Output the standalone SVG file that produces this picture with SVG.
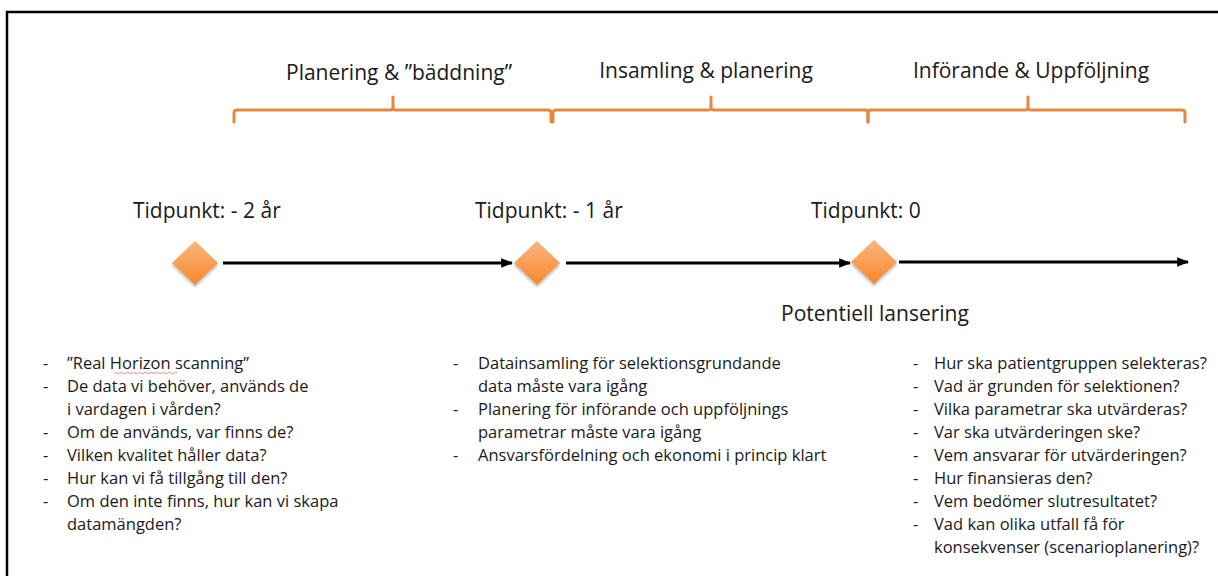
<svg xmlns="http://www.w3.org/2000/svg" width="1218" height="576" viewBox="0 0 1218 576">
<defs>
<linearGradient id="dg" x1="0" y1="0" x2="0" y2="1">
<stop offset="0" stop-color="#FCB57C"/>
<stop offset="1" stop-color="#F5882F"/>
</linearGradient>
<filter id="sh" x="-30%" y="-30%" width="160%" height="170%">
<feDropShadow dx="0" dy="2" stdDeviation="1.5" flood-color="#000" flood-opacity="0.3"/>
</filter>
<marker id="ah" viewBox="0 0 10 10" refX="9" refY="5" markerWidth="4" markerHeight="4" orient="auto" markerUnits="strokeWidth">
<path d="M0,1 L10,5 L0,9 z" fill="#000"/>
</marker>
<style>
text{font-family:"Open Sans","Noto Sans","Liberation Sans",sans-serif;fill:#1a1a1a}
.h{font-size:21px}
.t{font-size:21px}
.l{font-size:16.5px}
.br{fill:none;stroke:#E8883A;stroke-width:3;stroke-linejoin:round;stroke-linecap:round}
.ar{fill:none;stroke:#000;stroke-width:3;marker-end:url(#ah)}
.dm{fill:url(#dg);filter:url(#sh)}
</style>
</defs>
<rect width="1218" height="576" fill="#fff"/>
<path d="M7,580 V12 H1222" fill="none" stroke="#000" stroke-width="2.5"/>

<g id="phases">
<text class="h" x="399" y="80" text-anchor="middle" font-size="21.5">Planering &amp; ”bäddning”</text>
<text class="h" x="706" y="78" text-anchor="middle">Insamling &amp; planering</text>
<text class="h" x="1031" y="78" text-anchor="middle">Införande &amp; Uppföljning</text>
<path class="br" d="M234,122 V113 Q234,110 237,110 H390 Q393,110 393,107 V97 V107 Q393,110 396,110 H548 Q551,110 551,113 V122"/>
<path class="br" d="M553,122 V113 Q553,110 556,110 H708 Q711,110 711,107 V97 V107 Q711,110 714,110 H865 Q868,110 868,113 V122"/>
<path class="br" d="M868,122 V113 Q868,110 871,110 H1025 Q1028,110 1028,107 V97 V107 Q1028,110 1031,110 H1182 Q1185,110 1185,113 V122"/>
</g>

<g id="connectors">
<line class="ar" x1="223" y1="263" x2="512" y2="263"/>
<line class="ar" x1="566" y1="263" x2="850" y2="263"/>
<line class="ar" x1="899" y1="262" x2="1188" y2="262"/>
</g>

<g id="node-2ar">
<text class="t" x="133" y="218">Tidpunkt: - 2 år</text>
<polygon class="dm" points="195,241 218,263 195,285 172,263"/>
</g>
<g id="node-1ar">
<text class="t" x="475" y="218">Tidpunkt: - 1 år</text>
<polygon class="dm" points="537,241 560,263 537,285 514,263"/>
</g>
<g id="node-0">
<text class="t" x="811" y="218">Tidpunkt: 0</text>
<polygon class="dm" points="874,240 897,262 874,284 851,262"/>
<text class="t" x="781" y="321">Potentiell lansering</text>
</g>

<g id="list-left">
<text class="l" x="43" y="369">-</text><text class="l" x="67" y="369">”Real Horizon scanning”</text>
<path d="M114,373 q1.5,-1.5 3,0 t3,0 t3,0 t3,0 t3,0 t3,0 t3,0 t3,0 t3,0 t3,0 t3,0 t3,0 t3,0 t3,0 t3,0 t3,0 t3,0 t3,0 t3,0 t3,0 t3,0" fill="none" stroke="#E07070" stroke-width="0.8"/>
<text class="l" x="43" y="392">-</text><text class="l" x="67" y="392">De data vi behöver, används de</text>
<text class="l" x="67" y="415">i vardagen i vården?</text>
<text class="l" x="43" y="438">-</text><text class="l" x="67" y="438">Om de används, var finns de?</text>
<text class="l" x="43" y="461">-</text><text class="l" x="67" y="461">Vilken kvalitet håller data?</text>
<text class="l" x="43" y="484">-</text><text class="l" x="67" y="484">Hur kan vi få tillgång till den?</text>
<text class="l" x="43" y="507">-</text><text class="l" x="67" y="507">Om den inte finns, hur kan vi skapa</text>
<text class="l" x="67" y="530">datamängden?</text>
</g>

<g id="list-middle">
<text class="l" x="453" y="369">-</text><text class="l" x="478" y="369">Datainsamling för selektionsgrundande</text>
<text class="l" x="478" y="392">data måste vara igång</text>
<text class="l" x="453" y="415">-</text><text class="l" x="478" y="415">Planering för införande och uppföljnings</text>
<text class="l" x="478" y="438">parametrar måste vara igång</text>
<text class="l" x="453" y="461">-</text><text class="l" x="478" y="461">Ansvarsfördelning och ekonomi i princip klart</text>
</g>

<g id="list-right">
<text class="l" x="913" y="369">-</text><text class="l" x="934" y="369">Hur ska patientgruppen selekteras?</text>
<text class="l" x="913" y="392">-</text><text class="l" x="934" y="392">Vad är grunden för selektionen?</text>
<text class="l" x="913" y="415">-</text><text class="l" x="934" y="415">Vilka parametrar ska utvärderas?</text>
<text class="l" x="913" y="438">-</text><text class="l" x="934" y="438">Var ska utvärderingen ske?</text>
<text class="l" x="913" y="461">-</text><text class="l" x="934" y="461">Vem ansvarar för utvärderingen?</text>
<text class="l" x="913" y="484">-</text><text class="l" x="934" y="484">Hur finansieras den?</text>
<text class="l" x="913" y="507">-</text><text class="l" x="934" y="507">Vem bedömer slutresultatet?</text>
<text class="l" x="913" y="530">-</text><text class="l" x="934" y="530">Vad kan olika utfall få för</text>
<text class="l" x="934" y="553">konsekvenser (scenarioplanering)?</text>
</g>
</svg>
